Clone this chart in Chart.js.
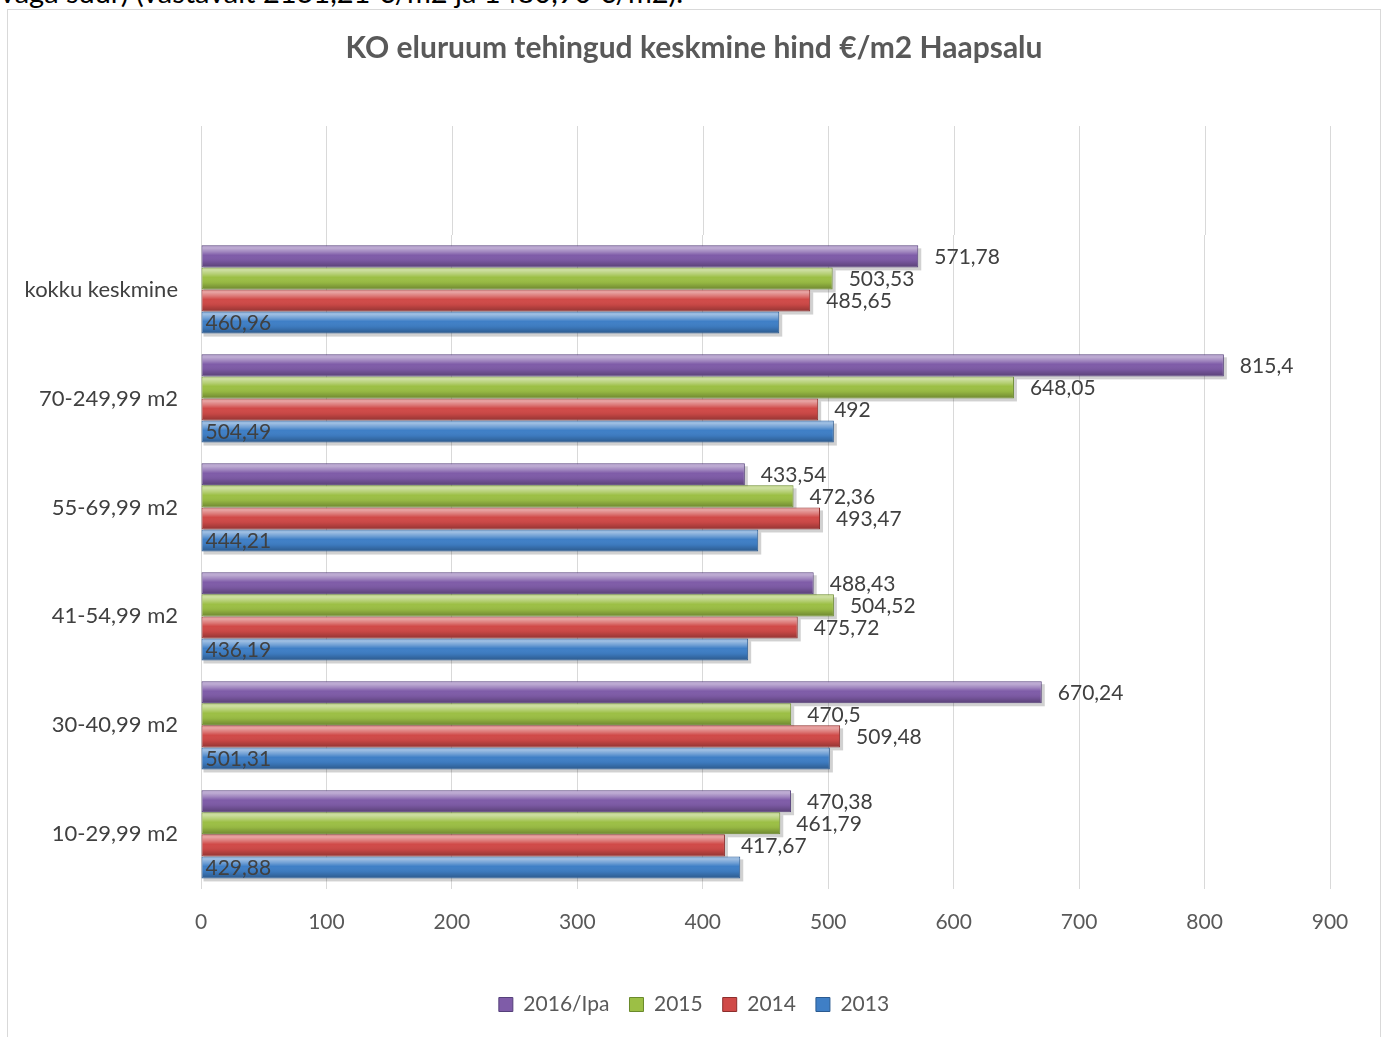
<!DOCTYPE html>
<html>
<head>
<meta charset="utf-8">
<script src="https://cdn.jsdelivr.net/npm/chart.js@4.4.1/dist/chart.umd.min.js"></script>
<style>
  body { margin: 0; background: #fff; overflow: hidden; font-family: Lato, sans-serif; }
  .cut { position: absolute; left: 0; top: -23px; font-size: 29px; line-height: 29px; color: #000; white-space: nowrap; }
  .box { position: absolute; left: 7px; top: 9px; width: 1372px; height: 1040px; border: 1px solid #d9d9d9; background: #fff; }
</style>
</head>
<body>
<div class="cut">väga suur) (vastavalt 2131,21 €/m2 ja 1480,90 €/m2).</div>
<div class="box"><canvas id="myChart" width="1372" height="1027"></canvas></div>
<script>
// categories top to bottom
const categories = ['kokku keskmine', '70-249,99 m2', '55-69,99 m2', '41-54,99 m2', '30-40,99 m2', '10-29,99 m2'];
const seriesNames = ['2016/Ipa', '2015', '2014', '2013'];

const v2016 = [571.78, 815.4, 433.54, 488.43, 670.24, 470.38];
const v2015 = [503.53, 648.05, 472.36, 504.52, 470.5, 461.79];
const v2014 = [485.65, 492, 493.47, 475.72, 509.48, 417.67];
const v2013 = [460.96, 504.49, 444.21, 436.19, 501.31, 429.88];

const xTicks = [0, 100, 200, 300, 400, 500, 600, 700, 800, 900];

const fills = ['#7f5ca8', '#9cbf45', '#d04a48', '#3f7fc6'];
const edges = ['#55407a', '#6a8a2c', '#8c2e2c', '#2b5a90'];

const fmt = v => String(v).replace('.', ',');

// extends vertical gridlines above the first category, as in the excel chart
// and draws a soft shadow under each bar
const gridUp = {
  id: 'gridUp',
  beforeDatasetsDraw(chart) {
    const x = chart.scales.x, y = chart.scales.y;
    const step = y.getPixelForValue(1) - y.getPixelForValue(0);
    const c = chart.ctx;
    c.save();
    c.strokeStyle = '#d9d9d9';
    c.lineWidth = 1;
    xTicks.forEach(t => {
      const px = Math.round(x.getPixelForValue(t)) + 0.5;
      c.beginPath();
      c.moveTo(px, chart.chartArea.top - step);
      c.lineTo(px, chart.chartArea.top);
      c.stroke();
    });
    c.fillStyle = 'rgba(0,0,0,0.18)';
    chart.data.datasets.forEach((ds, i) => {
      chart.getDatasetMeta(i).data.forEach(el => {
        const top = el.y - el.height / 2;
        c.fillRect(el.base + 2, top + 3, el.x - el.base + 1, el.height);
      });
    });
    c.restore();
  }
};

// shading on bars + value labels
const barLabels = {
  id: 'barLabels',
  afterDatasetsDraw(chart) {
    const c = chart.ctx;
    c.save();
    chart.data.datasets.forEach((ds, i) => {
      const meta = chart.getDatasetMeta(i);
      meta.data.forEach((el, j) => {
        const top = el.y - el.height / 2;
        const g = c.createLinearGradient(0, top, 0, top + el.height);
        g.addColorStop(0, 'rgba(255,255,255,0.35)');
        g.addColorStop(0.12, 'rgba(255,255,255,0.5)');
        g.addColorStop(0.3, 'rgba(255,255,255,0.25)');
        g.addColorStop(0.45, 'rgba(255,255,255,0)');
        g.addColorStop(0.7, 'rgba(0,0,0,0.05)');
        g.addColorStop(1, 'rgba(0,0,0,0.3)');
        c.fillStyle = g;
        c.fillRect(el.base + 1, top + 1, el.x - el.base - 2, el.height - 2);
      });
    });
    c.font = '21px Lato, sans-serif';
    c.fillStyle = '#404040';
    c.textBaseline = 'middle';
    c.textAlign = 'left';
    chart.data.datasets.forEach((ds, i) => {
      const meta = chart.getDatasetMeta(i);
      meta.data.forEach((el, j) => {
        const txt = fmt(ds.data[j]);
        if (i === 3) {
          c.fillText(txt, el.base + 4, el.y + 1);
        } else {
          c.fillText(txt, el.x + 16, el.y + 1);
        }
      });
    });
    c.restore();
  }
};

const ctx = document.getElementById('myChart').getContext('2d');

const myChart = new Chart(ctx, {
  type: 'bar',
  data: {
    labels: categories,
    datasets: [v2016, v2015, v2014, v2013].map((d, i) => ({
      label: seriesNames[i],
      data: d,
      backgroundColor: fills[i],
      borderColor: edges[i],
      borderWidth: 1,
      borderSkipped: false,
      barPercentage: 1,
      categoryPercentage: 0.81
    }))
  },
  options: {
    indexAxis: 'y',
    responsive: false,
    animation: false,
    layout: { padding: { left: 0, right: 0, top: 0, bottom: 12 } },
    plugins: {
      title: {
        display: true,
        text: 'KO eluruum tehingud keskmine hind €/m2 Haapsalu',
        color: '#595959',
        font: { family: 'Lato', size: 30, weight: 'bold' },
        padding: { top: 20, bottom: 169 }
      },
      legend: {
        position: 'bottom',
        labels: {
          color: '#595959',
          font: { family: 'Lato', size: 21 },
          boxWidth: 14,
          boxHeight: 14,
          padding: 20,
          generateLabels(chart) {
            return chart.data.datasets.map((ds, i) => ({
              text: ds.label,
              fillStyle: fills[i],
              strokeStyle: edges[i],
              lineWidth: 1,
              datasetIndex: i,
              fontColor: '#595959'
            }));
          }
        }
      },
      tooltip: { enabled: false }
    },
    scales: {
      x: {
        min: 0,
        max: 900,
        afterBuildTicks: s => { s.ticks = xTicks.map(v => ({ value: v })); },
        afterFit: s => { s.height += 18; },
        grid: { color: '#d9d9d9', drawTicks: false },
        border: { display: false },
        ticks: { color: '#595959', font: { family: 'Lato', size: 21 }, padding: 21 }
      },
      y: {
        afterFit: s => { s.width = 193; },
        grid: { display: false },
        border: { display: false },
        ticks: { color: '#404040', font: { family: 'Lato', size: 22 }, padding: 15 }
      },
      // empty right-hand strip so title and legend stay centred on the whole box
      yRight: {
        type: 'category',
        position: 'right',
        labels: categories,
        afterFit: s => { s.width = 50; },
        grid: { display: false },
        border: { display: false },
        ticks: { display: false }
      }
    }
  },
  plugins: [gridUp, barLabels]
});
</script>
</body>
</html>
